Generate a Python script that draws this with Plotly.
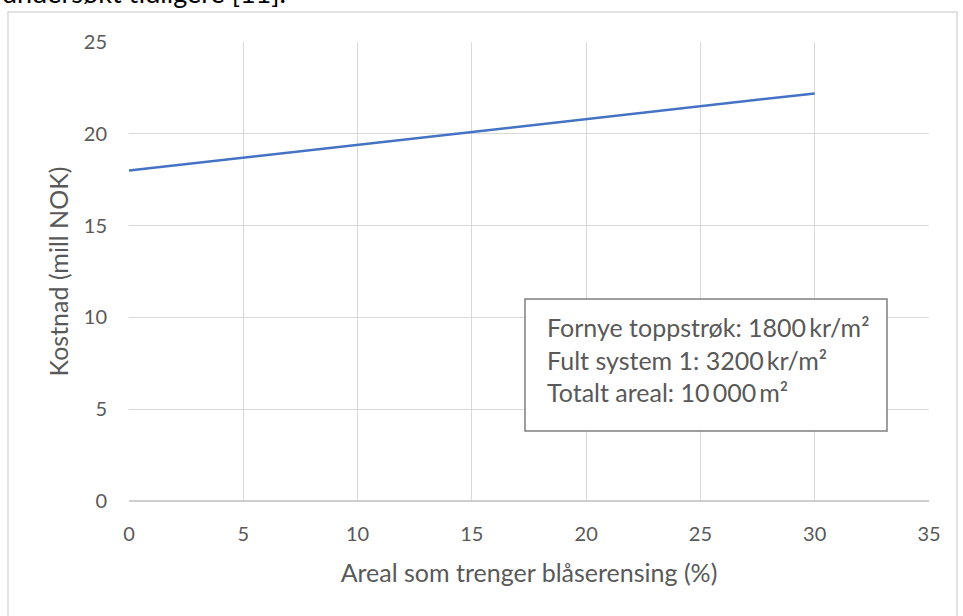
import plotly.graph_objects as go

# Share of the area needing blast cleaning (%) and resulting total cost (mill NOK)
andel_blaserensing = [0, 5, 10, 15, 20, 25, 30]
kostnad_mill_nok = [18.0, 18.7, 19.4, 20.1, 20.8, 21.5, 22.2]

x_ticks = [0, 5, 10, 15, 20, 25, 30, 35]
y_ticks = [0, 5, 10, 15, 20, 25]

info_lines = [
    "Fornye toppstrøk: 1800\u2009kr/m²",
    "Fult system 1: 3200\u2009kr/m²",
    "Totalt areal: 10\u2009000\u2009m²",
]

W, H = 963, 616
L, R, T, B = 129, 929, 42, 501  # plot-area pixel edges

FONT = "Lato"
GREY_TXT = "#595959"
GRID = "#d9d9d9"


def px_x(p):
    return (p - L) / (R - L)


def px_y(p):
    return (B - p) / (B - T)


fig = go.Figure()
fig.add_trace(go.Scatter(
    x=andel_blaserensing,
    y=kostnad_mill_nok,
    mode="lines",
    line=dict(color="#4472C4", width=2.5),
    showlegend=False,
    hoverinfo="x+y",
))

axis_common = dict(
    showgrid=True,
    gridcolor=GRID,
    gridwidth=1,
    showline=False,
    zeroline=False,
    ticks="",
    tickfont=dict(family=FONT, size=20, color=GREY_TXT),
)

fig.update_xaxes(
    range=[0, 35],
    tickvals=x_ticks,
    ticklabelstandoff=19,
    title=dict(text="Areal som trenger blåserensing (%)",
               font=dict(family=FONT, size=25, color=GREY_TXT), standoff=20),
    **axis_common,
)
fig.update_yaxes(
    range=[0, 25],
    tickvals=y_ticks,
    ticklabelstandoff=21,
    title=dict(text="Kostnad (mill NOK)",
               font=dict(family=FONT, size=25, color=GREY_TXT), standoff=8),
    **axis_common,
)

shapes = [
    # outer chart frame
    dict(type="rect", xref="paper", yref="paper",
         x0=px_x(8), x1=px_x(957), y0=px_y(640), y1=px_y(12),
         line=dict(color="#d9d9d9", width=1.5), fillcolor="rgba(0,0,0,0)", layer="below"),
    # horizontal axis line
    dict(type="line", xref="paper", yref="paper",
         x0=0, x1=1, y0=0, y1=0, line=dict(color="#bfbfbf", width=1.5)),
    # info box
    dict(type="rect", xref="paper", yref="paper",
         x0=px_x(525), x1=px_x(887), y0=px_y(431), y1=px_y(299),
         line=dict(color="#7f7f7f", width=1.5), fillcolor="white", layer="above"),
]

annotations = [
    dict(text="undersøkt tidligere [11].", xref="paper", yref="paper",
         x=px_x(0), y=px_y(11), xanchor="left", yanchor="bottom",
         showarrow=False, font=dict(family=FONT, size=27, color="#000000")),
]
for i, line in enumerate(info_lines):
    annotations.append(dict(
        text=line, xref="paper", yref="paper",
        x=px_x(545), y=px_y(327 + 32.5 * i), xanchor="left", yanchor="middle",
        showarrow=False, font=dict(family=FONT, size=25, color=GREY_TXT),
    ))

fig.update_layout(
    width=W, height=H,
    margin=dict(l=L, r=W - R, t=T, b=H - B),
    paper_bgcolor="white",
    plot_bgcolor="white",
    shapes=shapes,
    annotations=annotations,
)

fig.write_html("out.html")
